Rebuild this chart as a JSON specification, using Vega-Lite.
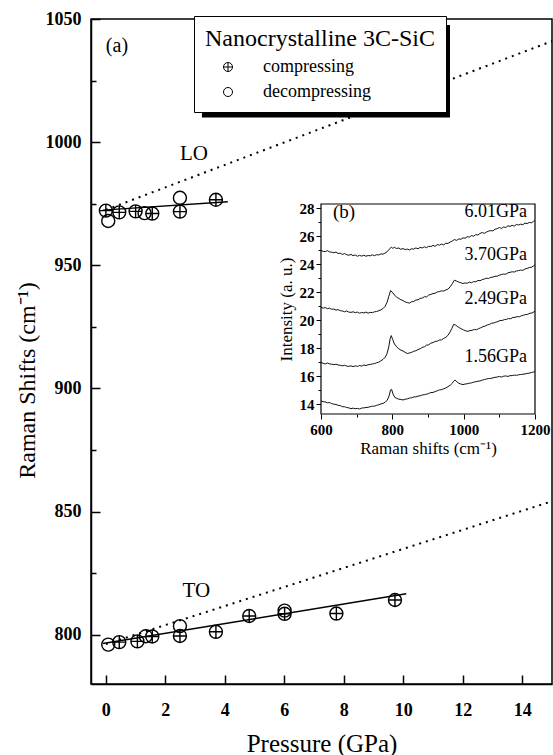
{
  "$schema": "https://vega.github.io/schema/vega-lite/v6.json",
  "width": 461,
  "height": 665,
  "autosize": {"type": "none"},
  "padding": {"left": 91, "top": 19, "right": 1, "bottom": 71},
  "background": "white",
  "config": {
    "view": {"stroke": "black", "strokeWidth": 1.5},
    "font": "Liberation Serif",
    "axis": {"domainColor": "black", "tickColor": "black", "labelColor": "black", "titleColor": "black", "grid": false, "labelFont": "Liberation Serif", "titleFont": "Liberation Serif", "titleFontWeight": "normal", "labelFlush": false, "labelOverlap": false, "labelBound": false},
    "legend": {"labelFont": "Liberation Serif", "titleFont": "Liberation Serif"},
    "text": {"font": "Liberation Serif", "color": "black"}
  },
  "data": {"values": [{}]},
  "datasets": {
    "pts": [
      {"P": 0.0, "R": 972.2, "run": "compressing"},
      {"P": 0.45, "R": 971.5, "run": "compressing"},
      {"P": 1.0, "R": 971.9, "run": "compressing"},
      {"P": 1.56, "R": 971.0, "run": "compressing"},
      {"P": 2.49, "R": 971.8, "run": "compressing"},
      {"P": 3.7, "R": 976.6, "run": "compressing"},
      {"P": 0.45, "R": 797.0, "run": "compressing"},
      {"P": 1.06, "R": 797.3, "run": "compressing"},
      {"P": 1.56, "R": 799.3, "run": "compressing"},
      {"P": 2.49, "R": 799.5, "run": "compressing"},
      {"P": 3.7, "R": 801.2, "run": "compressing"},
      {"P": 4.82, "R": 807.6, "run": "compressing"},
      {"P": 6.01, "R": 808.5, "run": "compressing"},
      {"P": 7.75, "R": 808.6, "run": "compressing"},
      {"P": 9.72, "R": 814.1, "run": "compressing"},
      {"P": 0.08, "R": 968.0, "run": "decompressing"},
      {"P": 1.3, "R": 971.2, "run": "decompressing"},
      {"P": 2.49, "R": 977.4, "run": "decompressing"},
      {"P": 0.08, "R": 796.0, "run": "decompressing"},
      {"P": 1.34, "R": 799.4, "run": "decompressing"},
      {"P": 2.49, "R": 803.5, "run": "decompressing"},
      {"P": 6.01, "R": 809.8, "run": "decompressing"}
    ],
    "fits": [
      {"line": "LO", "P": -0.1, "R": 972.4},
      {"line": "LO", "P": 4.1, "R": 975.8},
      {"line": "TO", "P": -0.1, "R": 796.4},
      {"line": "TO", "P": 10.1, "R": 816.6}
    ],
    "bulk": [
      {"line": "LO", "P": 0, "R": 972.5},
      {"line": "LO", "P": 15, "R": 1041},
      {"line": "TO", "P": 0, "R": 796.2},
      {"line": "TO", "P": 15, "R": 854.2}
    ],
    "spectra": [
      {"spec": "6.01", "shift": 600, "I": 24.98}, {"spec": "6.01", "shift": 606, "I": 24.92}, {"spec": "6.01", "shift": 612, "I": 24.9}, {"spec": "6.01", "shift": 618, "I": 24.97}, {"spec": "6.01", "shift": 624, "I": 24.88}, {"spec": "6.01", "shift": 630, "I": 24.86}, {"spec": "6.01", "shift": 636, "I": 24.82}, {"spec": "6.01", "shift": 642, "I": 24.87}, {"spec": "6.01", "shift": 648, "I": 24.76}, {"spec": "6.01", "shift": 654, "I": 24.79}, {"spec": "6.01", "shift": 660, "I": 24.7}, {"spec": "6.01", "shift": 666, "I": 24.76}, {"spec": "6.01", "shift": 672, "I": 24.68}, {"spec": "6.01", "shift": 678, "I": 24.64}, {"spec": "6.01", "shift": 684, "I": 24.7}, {"spec": "6.01", "shift": 690, "I": 24.61}, {"spec": "6.01", "shift": 696, "I": 24.66}, {"spec": "6.01", "shift": 702, "I": 24.57}, {"spec": "6.01", "shift": 708, "I": 24.63}, {"spec": "6.01", "shift": 714, "I": 24.58}, {"spec": "6.01", "shift": 720, "I": 24.64}, {"spec": "6.01", "shift": 726, "I": 24.57}, {"spec": "6.01", "shift": 732, "I": 24.62}, {"spec": "6.01", "shift": 738, "I": 24.6}, {"spec": "6.01", "shift": 744, "I": 24.67}, {"spec": "6.01", "shift": 750, "I": 24.61}, {"spec": "6.01", "shift": 756, "I": 24.68}, {"spec": "6.01", "shift": 762, "I": 24.66}, {"spec": "6.01", "shift": 768, "I": 24.74}, {"spec": "6.01", "shift": 774, "I": 24.72}, {"spec": "6.01", "shift": 780, "I": 24.8}, {"spec": "6.01", "shift": 786, "I": 24.9}, {"spec": "6.01", "shift": 790, "I": 25.04}, {"spec": "6.01", "shift": 794, "I": 25.12}, {"spec": "6.01", "shift": 797, "I": 25.22}, {"spec": "6.01", "shift": 801, "I": 25.14}, {"spec": "6.01", "shift": 806, "I": 25.2}, {"spec": "6.01", "shift": 812, "I": 25.12}, {"spec": "6.01", "shift": 818, "I": 25.16}, {"spec": "6.01", "shift": 824, "I": 25.06}, {"spec": "6.01", "shift": 830, "I": 25.12}, {"spec": "6.01", "shift": 836, "I": 25.04}, {"spec": "6.01", "shift": 842, "I": 25.08}, {"spec": "6.01", "shift": 848, "I": 25.02}, {"spec": "6.01", "shift": 854, "I": 25.1}, {"spec": "6.01", "shift": 860, "I": 25.08}, {"spec": "6.01", "shift": 866, "I": 25.16}, {"spec": "6.01", "shift": 872, "I": 25.1}, {"spec": "6.01", "shift": 878, "I": 25.2}, {"spec": "6.01", "shift": 884, "I": 25.16}, {"spec": "6.01", "shift": 890, "I": 25.24}, {"spec": "6.01", "shift": 896, "I": 25.18}, {"spec": "6.01", "shift": 902, "I": 25.28}, {"spec": "6.01", "shift": 908, "I": 25.26}, {"spec": "6.01", "shift": 914, "I": 25.34}, {"spec": "6.01", "shift": 920, "I": 25.28}, {"spec": "6.01", "shift": 926, "I": 25.4}, {"spec": "6.01", "shift": 932, "I": 25.36}, {"spec": "6.01", "shift": 938, "I": 25.44}, {"spec": "6.01", "shift": 944, "I": 25.38}, {"spec": "6.01", "shift": 950, "I": 25.5}, {"spec": "6.01", "shift": 956, "I": 25.48}, {"spec": "6.01", "shift": 962, "I": 25.58}, {"spec": "6.01", "shift": 968, "I": 25.66}, {"spec": "6.01", "shift": 974, "I": 25.76}, {"spec": "6.01", "shift": 980, "I": 25.7}, {"spec": "6.01", "shift": 986, "I": 25.8}, {"spec": "6.01", "shift": 992, "I": 25.78}, {"spec": "6.01", "shift": 998, "I": 25.88}, {"spec": "6.01", "shift": 1004, "I": 25.86}, {"spec": "6.01", "shift": 1010, "I": 25.96}, {"spec": "6.01", "shift": 1016, "I": 25.94}, {"spec": "6.01", "shift": 1022, "I": 26.04}, {"spec": "6.01", "shift": 1028, "I": 26.0}, {"spec": "6.01", "shift": 1034, "I": 26.12}, {"spec": "6.01", "shift": 1040, "I": 26.08}, {"spec": "6.01", "shift": 1046, "I": 26.2}, {"spec": "6.01", "shift": 1052, "I": 26.26}, {"spec": "6.01", "shift": 1058, "I": 26.2}, {"spec": "6.01", "shift": 1064, "I": 26.3}, {"spec": "6.01", "shift": 1070, "I": 26.36}, {"spec": "6.01", "shift": 1076, "I": 26.4}, {"spec": "6.01", "shift": 1082, "I": 26.38}, {"spec": "6.01", "shift": 1088, "I": 26.5}, {"spec": "6.01", "shift": 1094, "I": 26.54}, {"spec": "6.01", "shift": 1100, "I": 26.62}, {"spec": "6.01", "shift": 1106, "I": 26.56}, {"spec": "6.01", "shift": 1112, "I": 26.66}, {"spec": "6.01", "shift": 1118, "I": 26.62}, {"spec": "6.01", "shift": 1124, "I": 26.74}, {"spec": "6.01", "shift": 1130, "I": 26.7}, {"spec": "6.01", "shift": 1136, "I": 26.78}, {"spec": "6.01", "shift": 1142, "I": 26.72}, {"spec": "6.01", "shift": 1148, "I": 26.84}, {"spec": "6.01", "shift": 1154, "I": 26.8}, {"spec": "6.01", "shift": 1160, "I": 26.86}, {"spec": "6.01", "shift": 1166, "I": 26.82}, {"spec": "6.01", "shift": 1172, "I": 26.94}, {"spec": "6.01", "shift": 1178, "I": 26.9}, {"spec": "6.01", "shift": 1184, "I": 26.98}, {"spec": "6.01", "shift": 1190, "I": 26.96}, {"spec": "6.01", "shift": 1196, "I": 27.06}, {"spec": "6.01", "shift": 1200, "I": 27.12},
      {"spec": "3.70", "shift": 600, "I": 20.92}, {"spec": "3.70", "shift": 606, "I": 20.86}, {"spec": "3.70", "shift": 612, "I": 20.9}, {"spec": "3.70", "shift": 618, "I": 20.82}, {"spec": "3.70", "shift": 624, "I": 20.86}, {"spec": "3.70", "shift": 630, "I": 20.78}, {"spec": "3.70", "shift": 636, "I": 20.8}, {"spec": "3.70", "shift": 642, "I": 20.72}, {"spec": "3.70", "shift": 648, "I": 20.76}, {"spec": "3.70", "shift": 654, "I": 20.68}, {"spec": "3.70", "shift": 660, "I": 20.66}, {"spec": "3.70", "shift": 666, "I": 20.6}, {"spec": "3.70", "shift": 672, "I": 20.66}, {"spec": "3.70", "shift": 678, "I": 20.58}, {"spec": "3.70", "shift": 684, "I": 20.56}, {"spec": "3.70", "shift": 690, "I": 20.6}, {"spec": "3.70", "shift": 696, "I": 20.54}, {"spec": "3.70", "shift": 702, "I": 20.58}, {"spec": "3.70", "shift": 708, "I": 20.5}, {"spec": "3.70", "shift": 714, "I": 20.55}, {"spec": "3.70", "shift": 720, "I": 20.52}, {"spec": "3.70", "shift": 726, "I": 20.58}, {"spec": "3.70", "shift": 732, "I": 20.5}, {"spec": "3.70", "shift": 738, "I": 20.56}, {"spec": "3.70", "shift": 744, "I": 20.54}, {"spec": "3.70", "shift": 750, "I": 20.6}, {"spec": "3.70", "shift": 756, "I": 20.62}, {"spec": "3.70", "shift": 762, "I": 20.68}, {"spec": "3.70", "shift": 768, "I": 20.74}, {"spec": "3.70", "shift": 774, "I": 20.84}, {"spec": "3.70", "shift": 780, "I": 21.0}, {"spec": "3.70", "shift": 785, "I": 21.26}, {"spec": "3.70", "shift": 790, "I": 21.7}, {"spec": "3.70", "shift": 795, "I": 22.12}, {"spec": "3.70", "shift": 800, "I": 22.0}, {"spec": "3.70", "shift": 806, "I": 21.8}, {"spec": "3.70", "shift": 812, "I": 21.64}, {"spec": "3.70", "shift": 818, "I": 21.56}, {"spec": "3.70", "shift": 824, "I": 21.46}, {"spec": "3.70", "shift": 830, "I": 21.4}, {"spec": "3.70", "shift": 836, "I": 21.3}, {"spec": "3.70", "shift": 842, "I": 21.26}, {"spec": "3.70", "shift": 848, "I": 21.22}, {"spec": "3.70", "shift": 854, "I": 21.32}, {"spec": "3.70", "shift": 860, "I": 21.34}, {"spec": "3.70", "shift": 866, "I": 21.44}, {"spec": "3.70", "shift": 872, "I": 21.46}, {"spec": "3.70", "shift": 878, "I": 21.56}, {"spec": "3.70", "shift": 884, "I": 21.58}, {"spec": "3.70", "shift": 890, "I": 21.68}, {"spec": "3.70", "shift": 896, "I": 21.66}, {"spec": "3.70", "shift": 902, "I": 21.8}, {"spec": "3.70", "shift": 908, "I": 21.84}, {"spec": "3.70", "shift": 914, "I": 21.9}, {"spec": "3.70", "shift": 920, "I": 21.92}, {"spec": "3.70", "shift": 926, "I": 22.02}, {"spec": "3.70", "shift": 932, "I": 22.04}, {"spec": "3.70", "shift": 938, "I": 22.1}, {"spec": "3.70", "shift": 944, "I": 22.08}, {"spec": "3.70", "shift": 950, "I": 22.16}, {"spec": "3.70", "shift": 956, "I": 22.22}, {"spec": "3.70", "shift": 962, "I": 22.38}, {"spec": "3.70", "shift": 968, "I": 22.6}, {"spec": "3.70", "shift": 974, "I": 22.86}, {"spec": "3.70", "shift": 980, "I": 22.8}, {"spec": "3.70", "shift": 986, "I": 22.72}, {"spec": "3.70", "shift": 992, "I": 22.68}, {"spec": "3.70", "shift": 998, "I": 22.62}, {"spec": "3.70", "shift": 1004, "I": 22.66}, {"spec": "3.70", "shift": 1010, "I": 22.64}, {"spec": "3.70", "shift": 1016, "I": 22.72}, {"spec": "3.70", "shift": 1022, "I": 22.68}, {"spec": "3.70", "shift": 1028, "I": 22.76}, {"spec": "3.70", "shift": 1034, "I": 22.74}, {"spec": "3.70", "shift": 1040, "I": 22.84}, {"spec": "3.70", "shift": 1046, "I": 22.82}, {"spec": "3.70", "shift": 1052, "I": 22.9}, {"spec": "3.70", "shift": 1058, "I": 22.94}, {"spec": "3.70", "shift": 1064, "I": 23.0}, {"spec": "3.70", "shift": 1070, "I": 22.98}, {"spec": "3.70", "shift": 1076, "I": 23.06}, {"spec": "3.70", "shift": 1082, "I": 23.08}, {"spec": "3.70", "shift": 1088, "I": 23.14}, {"spec": "3.70", "shift": 1094, "I": 23.14}, {"spec": "3.70", "shift": 1100, "I": 23.22}, {"spec": "3.70", "shift": 1106, "I": 23.26}, {"spec": "3.70", "shift": 1112, "I": 23.3}, {"spec": "3.70", "shift": 1118, "I": 23.28}, {"spec": "3.70", "shift": 1124, "I": 23.38}, {"spec": "3.70", "shift": 1130, "I": 23.42}, {"spec": "3.70", "shift": 1136, "I": 23.46}, {"spec": "3.70", "shift": 1142, "I": 23.44}, {"spec": "3.70", "shift": 1148, "I": 23.52}, {"spec": "3.70", "shift": 1154, "I": 23.54}, {"spec": "3.70", "shift": 1160, "I": 23.58}, {"spec": "3.70", "shift": 1166, "I": 23.56}, {"spec": "3.70", "shift": 1172, "I": 23.66}, {"spec": "3.70", "shift": 1178, "I": 23.7}, {"spec": "3.70", "shift": 1184, "I": 23.76}, {"spec": "3.70", "shift": 1190, "I": 23.78}, {"spec": "3.70", "shift": 1196, "I": 23.88}, {"spec": "3.70", "shift": 1200, "I": 23.96},
      {"spec": "2.49", "shift": 600, "I": 16.98}, {"spec": "2.49", "shift": 606, "I": 16.92}, {"spec": "2.49", "shift": 612, "I": 16.88}, {"spec": "2.49", "shift": 618, "I": 16.94}, {"spec": "2.49", "shift": 624, "I": 16.88}, {"spec": "2.49", "shift": 630, "I": 16.86}, {"spec": "2.49", "shift": 636, "I": 16.82}, {"spec": "2.49", "shift": 642, "I": 16.86}, {"spec": "2.49", "shift": 648, "I": 16.8}, {"spec": "2.49", "shift": 654, "I": 16.78}, {"spec": "2.49", "shift": 660, "I": 16.74}, {"spec": "2.49", "shift": 666, "I": 16.78}, {"spec": "2.49", "shift": 672, "I": 16.72}, {"spec": "2.49", "shift": 678, "I": 16.7}, {"spec": "2.49", "shift": 684, "I": 16.74}, {"spec": "2.49", "shift": 690, "I": 16.68}, {"spec": "2.49", "shift": 696, "I": 16.74}, {"spec": "2.49", "shift": 702, "I": 16.7}, {"spec": "2.49", "shift": 708, "I": 16.76}, {"spec": "2.49", "shift": 714, "I": 16.72}, {"spec": "2.49", "shift": 720, "I": 16.8}, {"spec": "2.49", "shift": 726, "I": 16.76}, {"spec": "2.49", "shift": 732, "I": 16.82}, {"spec": "2.49", "shift": 738, "I": 16.84}, {"spec": "2.49", "shift": 744, "I": 16.88}, {"spec": "2.49", "shift": 750, "I": 16.9}, {"spec": "2.49", "shift": 756, "I": 16.96}, {"spec": "2.49", "shift": 762, "I": 17.0}, {"spec": "2.49", "shift": 768, "I": 17.1}, {"spec": "2.49", "shift": 774, "I": 17.2}, {"spec": "2.49", "shift": 780, "I": 17.36}, {"spec": "2.49", "shift": 785, "I": 17.6}, {"spec": "2.49", "shift": 790, "I": 18.1}, {"spec": "2.49", "shift": 794, "I": 18.7}, {"spec": "2.49", "shift": 797, "I": 18.9}, {"spec": "2.49", "shift": 801, "I": 18.62}, {"spec": "2.49", "shift": 806, "I": 18.3}, {"spec": "2.49", "shift": 812, "I": 18.1}, {"spec": "2.49", "shift": 818, "I": 17.96}, {"spec": "2.49", "shift": 824, "I": 17.86}, {"spec": "2.49", "shift": 830, "I": 17.8}, {"spec": "2.49", "shift": 836, "I": 17.7}, {"spec": "2.49", "shift": 842, "I": 17.62}, {"spec": "2.49", "shift": 848, "I": 17.66}, {"spec": "2.49", "shift": 854, "I": 17.7}, {"spec": "2.49", "shift": 860, "I": 17.78}, {"spec": "2.49", "shift": 866, "I": 17.82}, {"spec": "2.49", "shift": 872, "I": 17.9}, {"spec": "2.49", "shift": 878, "I": 17.96}, {"spec": "2.49", "shift": 884, "I": 18.06}, {"spec": "2.49", "shift": 890, "I": 18.1}, {"spec": "2.49", "shift": 896, "I": 18.22}, {"spec": "2.49", "shift": 902, "I": 18.24}, {"spec": "2.49", "shift": 908, "I": 18.36}, {"spec": "2.49", "shift": 914, "I": 18.4}, {"spec": "2.49", "shift": 920, "I": 18.48}, {"spec": "2.49", "shift": 926, "I": 18.5}, {"spec": "2.49", "shift": 932, "I": 18.58}, {"spec": "2.49", "shift": 938, "I": 18.6}, {"spec": "2.49", "shift": 944, "I": 18.7}, {"spec": "2.49", "shift": 950, "I": 18.78}, {"spec": "2.49", "shift": 956, "I": 18.92}, {"spec": "2.49", "shift": 962, "I": 19.16}, {"spec": "2.49", "shift": 967, "I": 19.42}, {"spec": "2.49", "shift": 972, "I": 19.7}, {"spec": "2.49", "shift": 977, "I": 19.66}, {"spec": "2.49", "shift": 982, "I": 19.56}, {"spec": "2.49", "shift": 988, "I": 19.46}, {"spec": "2.49", "shift": 994, "I": 19.38}, {"spec": "2.49", "shift": 1000, "I": 19.3}, {"spec": "2.49", "shift": 1006, "I": 19.24}, {"spec": "2.49", "shift": 1012, "I": 19.2}, {"spec": "2.49", "shift": 1018, "I": 19.26}, {"spec": "2.49", "shift": 1024, "I": 19.28}, {"spec": "2.49", "shift": 1030, "I": 19.34}, {"spec": "2.49", "shift": 1036, "I": 19.32}, {"spec": "2.49", "shift": 1042, "I": 19.4}, {"spec": "2.49", "shift": 1048, "I": 19.46}, {"spec": "2.49", "shift": 1054, "I": 19.54}, {"spec": "2.49", "shift": 1060, "I": 19.58}, {"spec": "2.49", "shift": 1066, "I": 19.66}, {"spec": "2.49", "shift": 1072, "I": 19.7}, {"spec": "2.49", "shift": 1078, "I": 19.78}, {"spec": "2.49", "shift": 1084, "I": 19.8}, {"spec": "2.49", "shift": 1090, "I": 19.86}, {"spec": "2.49", "shift": 1096, "I": 19.9}, {"spec": "2.49", "shift": 1102, "I": 19.98}, {"spec": "2.49", "shift": 1108, "I": 19.98}, {"spec": "2.49", "shift": 1114, "I": 20.04}, {"spec": "2.49", "shift": 1120, "I": 20.06}, {"spec": "2.49", "shift": 1126, "I": 20.12}, {"spec": "2.49", "shift": 1132, "I": 20.1}, {"spec": "2.49", "shift": 1138, "I": 20.2}, {"spec": "2.49", "shift": 1144, "I": 20.2}, {"spec": "2.49", "shift": 1150, "I": 20.26}, {"spec": "2.49", "shift": 1156, "I": 20.24}, {"spec": "2.49", "shift": 1162, "I": 20.32}, {"spec": "2.49", "shift": 1168, "I": 20.36}, {"spec": "2.49", "shift": 1174, "I": 20.4}, {"spec": "2.49", "shift": 1180, "I": 20.42}, {"spec": "2.49", "shift": 1186, "I": 20.5}, {"spec": "2.49", "shift": 1192, "I": 20.52}, {"spec": "2.49", "shift": 1200, "I": 20.64},
      {"spec": "1.56", "shift": 600, "I": 14.24}, {"spec": "1.56", "shift": 606, "I": 14.18}, {"spec": "1.56", "shift": 612, "I": 14.16}, {"spec": "1.56", "shift": 618, "I": 14.1}, {"spec": "1.56", "shift": 624, "I": 14.12}, {"spec": "1.56", "shift": 630, "I": 14.04}, {"spec": "1.56", "shift": 636, "I": 14.0}, {"spec": "1.56", "shift": 642, "I": 13.98}, {"spec": "1.56", "shift": 648, "I": 13.92}, {"spec": "1.56", "shift": 654, "I": 13.9}, {"spec": "1.56", "shift": 660, "I": 13.82}, {"spec": "1.56", "shift": 666, "I": 13.82}, {"spec": "1.56", "shift": 672, "I": 13.76}, {"spec": "1.56", "shift": 678, "I": 13.74}, {"spec": "1.56", "shift": 684, "I": 13.68}, {"spec": "1.56", "shift": 690, "I": 13.72}, {"spec": "1.56", "shift": 696, "I": 13.68}, {"spec": "1.56", "shift": 702, "I": 13.7}, {"spec": "1.56", "shift": 708, "I": 13.66}, {"spec": "1.56", "shift": 714, "I": 13.72}, {"spec": "1.56", "shift": 720, "I": 13.74}, {"spec": "1.56", "shift": 726, "I": 13.76}, {"spec": "1.56", "shift": 732, "I": 13.78}, {"spec": "1.56", "shift": 738, "I": 13.82}, {"spec": "1.56", "shift": 744, "I": 13.86}, {"spec": "1.56", "shift": 750, "I": 13.86}, {"spec": "1.56", "shift": 756, "I": 13.92}, {"spec": "1.56", "shift": 762, "I": 13.96}, {"spec": "1.56", "shift": 768, "I": 14.02}, {"spec": "1.56", "shift": 774, "I": 14.06}, {"spec": "1.56", "shift": 780, "I": 14.14}, {"spec": "1.56", "shift": 786, "I": 14.3}, {"spec": "1.56", "shift": 791, "I": 14.6}, {"spec": "1.56", "shift": 795, "I": 15.02}, {"spec": "1.56", "shift": 798, "I": 15.06}, {"spec": "1.56", "shift": 802, "I": 14.72}, {"spec": "1.56", "shift": 807, "I": 14.48}, {"spec": "1.56", "shift": 812, "I": 14.42}, {"spec": "1.56", "shift": 818, "I": 14.36}, {"spec": "1.56", "shift": 824, "I": 14.34}, {"spec": "1.56", "shift": 830, "I": 14.3}, {"spec": "1.56", "shift": 836, "I": 14.36}, {"spec": "1.56", "shift": 842, "I": 14.38}, {"spec": "1.56", "shift": 848, "I": 14.44}, {"spec": "1.56", "shift": 854, "I": 14.46}, {"spec": "1.56", "shift": 860, "I": 14.52}, {"spec": "1.56", "shift": 866, "I": 14.52}, {"spec": "1.56", "shift": 872, "I": 14.58}, {"spec": "1.56", "shift": 878, "I": 14.6}, {"spec": "1.56", "shift": 884, "I": 14.66}, {"spec": "1.56", "shift": 890, "I": 14.68}, {"spec": "1.56", "shift": 896, "I": 14.72}, {"spec": "1.56", "shift": 902, "I": 14.76}, {"spec": "1.56", "shift": 908, "I": 14.84}, {"spec": "1.56", "shift": 914, "I": 14.84}, {"spec": "1.56", "shift": 920, "I": 14.9}, {"spec": "1.56", "shift": 926, "I": 14.96}, {"spec": "1.56", "shift": 932, "I": 15.02}, {"spec": "1.56", "shift": 938, "I": 15.04}, {"spec": "1.56", "shift": 944, "I": 15.1}, {"spec": "1.56", "shift": 950, "I": 15.16}, {"spec": "1.56", "shift": 956, "I": 15.26}, {"spec": "1.56", "shift": 962, "I": 15.34}, {"spec": "1.56", "shift": 967, "I": 15.48}, {"spec": "1.56", "shift": 972, "I": 15.64}, {"spec": "1.56", "shift": 976, "I": 15.72}, {"spec": "1.56", "shift": 981, "I": 15.6}, {"spec": "1.56", "shift": 986, "I": 15.5}, {"spec": "1.56", "shift": 992, "I": 15.44}, {"spec": "1.56", "shift": 998, "I": 15.4}, {"spec": "1.56", "shift": 1004, "I": 15.44}, {"spec": "1.56", "shift": 1010, "I": 15.46}, {"spec": "1.56", "shift": 1016, "I": 15.5}, {"spec": "1.56", "shift": 1022, "I": 15.52}, {"spec": "1.56", "shift": 1028, "I": 15.58}, {"spec": "1.56", "shift": 1034, "I": 15.6}, {"spec": "1.56", "shift": 1040, "I": 15.64}, {"spec": "1.56", "shift": 1046, "I": 15.66}, {"spec": "1.56", "shift": 1052, "I": 15.72}, {"spec": "1.56", "shift": 1058, "I": 15.76}, {"spec": "1.56", "shift": 1064, "I": 15.8}, {"spec": "1.56", "shift": 1070, "I": 15.84}, {"spec": "1.56", "shift": 1076, "I": 15.84}, {"spec": "1.56", "shift": 1082, "I": 15.88}, {"spec": "1.56", "shift": 1088, "I": 15.92}, {"spec": "1.56", "shift": 1094, "I": 15.94}, {"spec": "1.56", "shift": 1100, "I": 15.98}, {"spec": "1.56", "shift": 1106, "I": 15.94}, {"spec": "1.56", "shift": 1112, "I": 16.0}, {"spec": "1.56", "shift": 1118, "I": 16.02}, {"spec": "1.56", "shift": 1124, "I": 15.98}, {"spec": "1.56", "shift": 1130, "I": 16.04}, {"spec": "1.56", "shift": 1136, "I": 16.04}, {"spec": "1.56", "shift": 1142, "I": 16.08}, {"spec": "1.56", "shift": 1148, "I": 16.06}, {"spec": "1.56", "shift": 1154, "I": 16.1}, {"spec": "1.56", "shift": 1160, "I": 16.12}, {"spec": "1.56", "shift": 1166, "I": 16.14}, {"spec": "1.56", "shift": 1172, "I": 16.16}, {"spec": "1.56", "shift": 1178, "I": 16.2}, {"spec": "1.56", "shift": 1184, "I": 16.22}, {"spec": "1.56", "shift": 1190, "I": 16.26}, {"spec": "1.56", "shift": 1196, "I": 16.3}, {"spec": "1.56", "shift": 1200, "I": 16.34}
    ]
  },
  "layer": [
    {
      "layer": [
        {
          "mark": {"type": "rect", "color": "black"},
          "encoding": {
            "x": {"datum": 3.23, "type": "quantitative", "scale": {"domain": [-0.5, 15], "nice": false, "zero": false}},
            "x2": {"datum": 11.57},
            "y": {"datum": 1047.6, "type": "quantitative", "scale": {"domain": [780, 1050], "nice": false, "zero": false}},
            "y2": {"datum": 1010.0}
          }
        },
        {
          "data": {"name": "bulk"},
          "mark": {"type": "line", "color": "black", "strokeWidth": 2, "strokeDash": [2, 5]},
          "encoding": {
            "x": {"field": "P", "type": "quantitative", "scale": {"domain": [-0.5, 15], "nice": false, "zero": false}},
            "y": {"field": "R", "type": "quantitative", "scale": {"domain": [780, 1050], "nice": false, "zero": false}},
            "detail": {"field": "line"}
          }
        },
        {
          "data": {"name": "fits"},
          "mark": {"type": "line", "color": "black", "strokeWidth": 1.5},
          "encoding": {
            "x": {"field": "P", "type": "quantitative", "scale": {"domain": [-0.5, 15], "nice": false, "zero": false}},
            "y": {"field": "R", "type": "quantitative", "scale": {"domain": [780, 1050], "nice": false, "zero": false}},
            "detail": {"field": "line"}
          }
        },
        {
          "data": {"name": "pts"},
          "mark": {"type": "point", "filled": false, "color": "black", "strokeWidth": 1.4, "size": 169, "opacity": 1},
          "encoding": {
            "x": {
              "field": "P", "type": "quantitative",
              "scale": {"domain": [-0.5, 15], "nice": false, "zero": false},
              "axis": {
                "title": "Pressure (GPa)", "format": "d",
                "values": [0, 1, 2, 3, 4, 5, 6, 7, 8, 9, 10, 11, 12, 13, 14],
                "labelExpr": "datum.value % 2 === 0 ? datum.label : ''",
                "tickSize": {"condition": {"test": "datum.value % 2 === 0", "value": -9}, "value": -5},
                "tickWidth": 1.5, "domainWidth": 1.5,
                "labelFontSize": 18, "labelFontWeight": "bold", "labelPadding": 26,
                "titleFontSize": 25, "titleFontWeight": "normal", "titleY": 67, "titleBaseline": "alphabetic"
              }
            },
            "y": {
              "field": "R", "type": "quantitative",
              "scale": {"domain": [780, 1050], "nice": false, "zero": false},
              "axis": {
                "title": "Raman Shifts (cm⁻¹)", "format": "d",
                "values": [800, 825, 850, 875, 900, 925, 950, 975, 1000, 1025, 1050],
                "labelExpr": "datum.value % 50 === 0 ? datum.label : ''",
                "tickSize": {"condition": {"test": "datum.value % 50 === 0", "value": -9}, "value": -5},
                "tickWidth": 1.5, "domainWidth": 1.5,
                "labelFontSize": 18, "labelFontWeight": "bold", "labelPadding": 19,
                "titleFontSize": 24, "titleFontWeight": "normal", "titleX": -52, "titleY": 361, "titleBaseline": "bottom"
              }
            },
            "shape": {
              "field": "run", "type": "nominal",
              "scale": {"domain": ["compressing", "decompressing"], "range": ["M-1,0A1,1 0 1,1 1,0A1,1 0 1,1 -1,0ZM-1,0L1,0M0,-1L0,1", "circle"]},
              "legend": {
                "title": "Nanocrystalline 3C-SiC",
                "orient": "none", "legendX": 103, "legendY": -3,
                "padding": 11, "strokeColor": "black", "fillColor": "white",
                "titleFont": "Liberation Serif", "titleFontSize": 24, "titleFontWeight": "normal", "titleColor": "black", "titleLimit": 400,
                "labelFont": "Liberation Serif", "labelFontSize": 18, "labelColor": "black", "labelLimit": 300,
                "symbolSize": 81, "symbolStrokeWidth": 1, "symbolStrokeColor": "black",
                "symbolOffset": 14, "labelOffset": 26, "rowPadding": 7, "titlePadding": 7
              }
            }
          }
        },
        {
          "mark": {"type": "text", "fontSize": 20, "align": "left", "baseline": "alphabetic"},
          "encoding": {"x": {"datum": 0.0, "type": "quantitative"}, "y": {"datum": 1036.6, "type": "quantitative"}, "text": {"value": "(a)"}}
        },
        {
          "mark": {"type": "text", "fontSize": 21, "align": "left", "baseline": "alphabetic"},
          "encoding": {"x": {"datum": 2.49, "type": "quantitative"}, "y": {"datum": 992.7, "type": "quantitative"}, "text": {"value": "LO"}}
        },
        {
          "mark": {"type": "text", "fontSize": 21, "align": "left", "baseline": "alphabetic"},
          "encoding": {"x": {"datum": 2.58, "type": "quantitative"}, "y": {"datum": 815.4, "type": "quantitative"}, "text": {"value": "TO"}}
        }
      ]
    },
    {
      "layer": [
        {
          "mark": {"type": "rect", "fill": "white", "stroke": "black", "strokeWidth": 1.2},
          "encoding": {
            "x": {
              "datum": 600, "type": "quantitative",
              "scale": {"domain": [600, 1200], "range": [230, 444], "nice": false, "zero": false},
              "axis": {
                "orient": "bottom", "offset": -270, "domain": false,
                "values": [600, 700, 800, 900, 1000, 1100, 1200], "format": "d",
                "labelExpr": "datum.value % 200 === 0 ? datum.label : ''",
                "tickSize": {"condition": {"test": "datum.value % 200 === 0", "value": 5}, "value": 3},
                "tickWidth": 1,
                "labelFontSize": 15, "labelFontWeight": "bold", "labelPadding": 3,
                "title": "Raman shifts (cm⁻¹)", "titleFontSize": 17, "titleFontWeight": "normal", "titlePadding": 3
              }
            },
            "x2": {"datum": 1200},
            "y": {
              "datum": 13.3, "type": "quantitative",
              "scale": {"domain": [13.3, 28.3], "range": [395, 185], "nice": false, "zero": false},
              "axis": {
                "orient": "left", "offset": -230, "domain": false,
                "values": [14, 15, 16, 17, 18, 19, 20, 21, 22, 23, 24, 25, 26, 27, 28],
                "labelExpr": "datum.value % 2 === 0 ? datum.label : ''",
                "tickSize": {"condition": {"test": "datum.value % 2 === 0", "value": 5}, "value": 3},
                "tickWidth": 1,
                "labelFontSize": 15, "labelFontWeight": "bold", "labelPadding": 2,
                "title": "Intensity (a. u.)", "titleFontSize": 17, "titleFontWeight": "normal", "titlePadding": 4
              }
            },
            "y2": {"datum": 28.3}
          }
        },
        {
          "data": {"name": "spectra"},
          "mark": {"type": "line", "color": "#111111", "strokeWidth": 1},
          "encoding": {
            "x": {"field": "shift", "type": "quantitative", "scale": {"domain": [600, 1200], "range": [230, 444], "nice": false, "zero": false}},
            "y": {"field": "I", "type": "quantitative", "scale": {"domain": [13.3, 28.3], "range": [395, 185], "nice": false, "zero": false}},
            "detail": {"field": "spec"}
          }
        },
        {
          "mark": {"type": "text", "fontSize": 19, "align": "left", "baseline": "alphabetic"},
          "encoding": {"x": {"datum": 633.6, "type": "quantitative"}, "y": {"datum": 27.3, "type": "quantitative"}, "text": {"value": "(b)"}}
        },
        {
          "mark": {"type": "text", "fontSize": 18, "align": "right", "baseline": "alphabetic"},
          "encoding": {"x": {"datum": 1177.5, "type": "quantitative"}, "y": {"datum": 27.39, "type": "quantitative"}, "text": {"value": "6.01GPa"}}
        },
        {
          "mark": {"type": "text", "fontSize": 18, "align": "right", "baseline": "alphabetic"},
          "encoding": {"x": {"datum": 1177.5, "type": "quantitative"}, "y": {"datum": 24.3, "type": "quantitative"}, "text": {"value": "3.70GPa"}}
        },
        {
          "mark": {"type": "text", "fontSize": 18, "align": "right", "baseline": "alphabetic"},
          "encoding": {"x": {"datum": 1177.5, "type": "quantitative"}, "y": {"datum": 21.16, "type": "quantitative"}, "text": {"value": "2.49GPa"}}
        },
        {
          "mark": {"type": "text", "fontSize": 18, "align": "right", "baseline": "alphabetic"},
          "encoding": {"x": {"datum": 1177.5, "type": "quantitative"}, "y": {"datum": 17.0, "type": "quantitative"}, "text": {"value": "1.56GPa"}}
        }
      ]
    }
  ],
  "resolve": {"scale": {"x": "independent", "y": "independent"}}
}
